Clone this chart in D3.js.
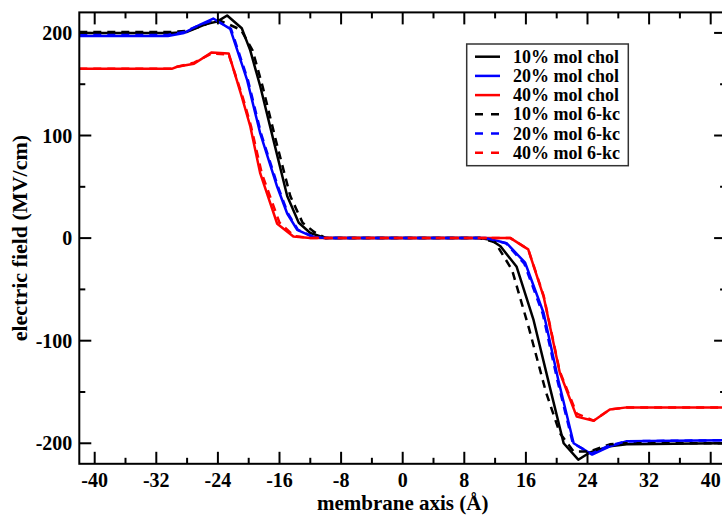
<!DOCTYPE html>
<html><head><meta charset="utf-8">
<script src="https://cdn.jsdelivr.net/npm/d3@7"></script>
<style>body{margin:0;background:#fff}svg{display:block}
text{font-family:"Liberation Serif","Tinos","Times New Roman","Nimbus Roman","DejaVu Serif",serif;font-weight:bold}</style>
</head><body>
<script>
// ---- data ----
const seriesNames = ["10% mol chol","20% mol chol","40% mol chol","10% mol 6-kc","20% mol 6-kc","40% mol 6-kc"];
const chol10X = [-42,-30,-28,-25.4,-24.1,-22.8,-20.9,-19.8,-18.5,-16.8,-15.0,-13.5,-12.0,-10,10,11.4,12.7,14.8,17.0,19.1,20.9,22.8,24.3,26.9,29.1,42];
const chol10Y = [200,200,201,209,211,217,204.5,183,148,96,41,15,5,0,0,-1.6,-8,-28,-80,-145,-200,-216,-209,-203,-201,-200];
const chol20X = [-42,-30.5,-28.4,-26.3,-24.6,-22.4,-20.2,-18.5,-16.3,-15.0,-13.7,-11.6,-10,10.9,13.5,15.9,18.3,20.2,22.2,24.6,26.9,29.1,42];
const chol20Y = [197,197,200,208,214,204,154,102,50,24,8,1,0,0,-5,-24,-73,-138,-200,-211,-203,-198,-197];
const chol40X = [-42,-30,-29.3,-27.1,-24.8,-22.6,-20.9,-19.8,-18.5,-16.3,-14.2,-12,14.0,16.3,18.3,20.4,22.6,24.8,26.9,29.1,42];
const chol40Y = [165,165,167,170,181,180,138,109,63,14,1.5,0,0,-11,-57,-131,-174,-178,-167,-165,-165];
const kc10X = [-42,-30,-28,-26,-24.1,-22.5,-21,-19.5,-18.2,-16.5,-14.6,-13.0,-11.5,-10,10,12.0,14.2,16.4,18.6,20.4,22.2,24.3,26.9,29,42];
const kc10Y = [201,201,202,207,213,208,203,183,148,96,41,15,6,0,0,-4,-31,-88,-150,-190,-208,-208,-201,-200,-200];
const kc20X = [-42,-30.5,-28.4,-26.3,-24.4,-22.3,-20.1,-18.4,-16.2,-14.9,-13.6,-11.5,-10,10.8,13.4,15.8,18.2,20.1,22.1,24.5,26.9,29.1,42];
const kc20Y = [198,198,201,208,213,204,154,102,50,24,8,1,0,0,-5,-25,-74,-139,-200,-210,-202,-198,-197];
const kc40X = [-42,-30,-29.3,-27.1,-24.8,-22.6,-20.8,-19.7,-18.3,-16.0,-14.1,-12,14.0,16.3,18.3,20.4,22.6,24.8,26.9,29.1,42];
const kc40Y = [165,165,167,171,180,179,138,109,63,15,2,0,0,-11,-56,-130,-171,-178,-167,-165,-165];
const xTicks = [-40,-32,-24,-16,-8,0,8,16,24,32,40];
const yTicks = [-200,-100,0,100,200];
const colors = ["#000000","#0000ff","#ff0000","#000000","#0000ff","#ff0000"];
const dashes = [null,null,null,"8,6","8,6","8,6"];

const W = 722, H = 517;
const svg = d3.select("body").append("svg").attr("width",W).attr("height",H);
const x = d3.scaleLinear().domain([-42,42]).range([79.3,726.1]);
const y = d3.scaleLinear().domain([-220,220]).range([463.8,12.4]);

const series = [[chol10X,chol10Y],[chol20X,chol20Y],[chol40X,chol40Y],[kc10X,kc10Y],[kc20X,kc20Y],[kc40X,kc40Y]];

const line = d3.line().x(d=>x(d[0])).y(d=>y(d[1]));
svg.append("defs").append("clipPath").attr("id","c").append("rect")
  .attr("x",x(-42)).attr("y",y(220)).attr("width",x(42)-x(-42)).attr("height",y(-220)-y(220));
const g = svg.append("g").attr("clip-path","url(#c)");
series.forEach((s,i)=>{
  const pts = s[0].map((v,j)=>[v,s[1][j]]);
  g.append("path").attr("d",line(pts)).attr("fill","none")
   .attr("stroke",colors[i]).attr("stroke-width",2.5)
   .attr("stroke-dasharray",dashes[i]).attr("stroke-linejoin","round");
});

// axes with inward ticks
const xMinor = d3.range(-40,41,4);
const yMinor = d3.range(-200,201,50);
const axG = svg.append("g").attr("stroke","#000").attr("stroke-width",2);
xMinor.forEach(v=>{
  const major = xTicks.includes(v); const L = major?12:6;
  axG.append("line").attr("x1",x(v)).attr("x2",x(v)).attr("y1",y(-220)).attr("y2",y(-220)-L);
  axG.append("line").attr("x1",x(v)).attr("x2",x(v)).attr("y1",y(220)).attr("y2",y(220)+L);
});
yMinor.forEach(v=>{
  const major = yTicks.includes(v); const L = major?12:6;
  axG.append("line").attr("y1",y(v)).attr("y2",y(v)).attr("x1",x(-42)).attr("x2",x(-42)+L);
  axG.append("line").attr("y1",y(v)).attr("y2",y(v)).attr("x1",x(42)).attr("x2",x(42)-L);
});
svg.append("rect").attr("x",x(-42)).attr("y",y(220)).attr("width",x(42)-x(-42)).attr("height",y(-220)-y(220))
  .attr("fill","none").attr("stroke","#000").attr("stroke-width",2);

// tick labels
svg.append("g").selectAll("text").data(xTicks).join("text")
  .attr("x",d=>x(d)).attr("y",y(-220)+23).attr("text-anchor","middle")
  .attr("font-size",20).text(d=>d);
svg.append("g").selectAll("text").data(yTicks).join("text")
  .attr("x",x(-42)-7).attr("y",d=>y(d)+7).attr("text-anchor","end")
  .attr("font-size",20).text(d=>d);

// axis titles
svg.append("text").attr("x",x(0)).attr("y",510).attr("text-anchor","middle")
  .attr("font-size",21).text("membrane axis (Å)");
svg.append("text").attr("transform",`translate(27,${y(0)}) rotate(-90)`).attr("text-anchor","middle")
  .attr("font-size",22).text("electric field (MV/cm)");

// legend
const lg = svg.append("g");
lg.append("rect").attr("x",466.7).attr("y",44).attr("width",161.6).attr("height",121.7)
  .attr("fill","#fff").attr("stroke","#333").attr("stroke-width",1.5);
seriesNames.forEach((n,i)=>{
  const yy = 56.7 + i*19.2;
  lg.append("line").attr("x1",475).attr("x2",500).attr("y1",yy).attr("y2",yy)
    .attr("stroke",colors[i]).attr("stroke-width",2.5).attr("stroke-dasharray",dashes[i]?"8,8":null);
  lg.append("text").attr("x",513).attr("y",yy+6).attr("font-size",18).text(n);
});
</script>
</body></html>
